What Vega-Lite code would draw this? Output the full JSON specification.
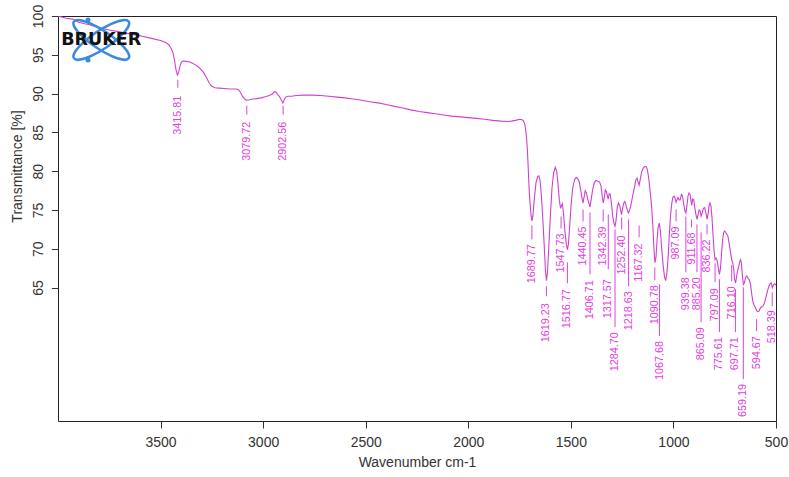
{
  "$schema": "https://vega.github.io/schema/vega-lite/v6.json",
  "width": 718,
  "height": 405,
  "autosize": {"type": "none"},
  "padding": {"left": 58, "top": 16, "right": 13, "bottom": 56},
  "background": "white",
  "config": {
    "view": {"stroke": "#222", "strokeWidth": 1},
    "font": "Liberation Sans"
  },
  "datasets": {
    "spectrum": [
      {"wn":4000,"T":100.0},{"wn":3960,"T":99.7},{"wn":3930,"T":99.6},{"wn":3900,"T":99.2},{"wn":3870,"T":99.0},{"wn":3850,"T":98.9},{"wn":3800,"T":98.5},{"wn":3750,"T":98.2},{"wn":3700,"T":97.95},{"wn":3650,"T":97.7},{"wn":3600,"T":97.45},{"wn":3550,"T":97.15},{"wn":3500,"T":96.85},{"wn":3475,"T":96.6},{"wn":3460,"T":96.3},{"wn":3450,"T":95.9},{"wn":3440,"T":95.3},{"wn":3432,"T":94.3},{"wn":3425,"T":93.1},{"wn":3418,"T":92.4},{"wn":3412,"T":92.7},{"wn":3405,"T":93.6},{"wn":3398,"T":94.05},{"wn":3390,"T":94.2},{"wn":3375,"T":94.15},{"wn":3360,"T":94.1},{"wn":3345,"T":93.9},{"wn":3330,"T":93.7},{"wn":3310,"T":93.3},{"wn":3290,"T":92.7},{"wn":3275,"T":92.0},{"wn":3262,"T":91.3},{"wn":3250,"T":90.95},{"wn":3235,"T":90.75},{"wn":3215,"T":90.7},{"wn":3190,"T":90.65},{"wn":3160,"T":90.6},{"wn":3130,"T":90.6},{"wn":3120,"T":90.5},{"wn":3110,"T":90.15},{"wn":3100,"T":89.6},{"wn":3090,"T":89.3},{"wn":3080,"T":89.15},{"wn":3065,"T":89.2},{"wn":3050,"T":89.3},{"wn":3030,"T":89.35},{"wn":3010,"T":89.45},{"wn":2990,"T":89.6},{"wn":2970,"T":89.75},{"wn":2955,"T":89.95},{"wn":2945,"T":90.25},{"wn":2938,"T":90.2},{"wn":2930,"T":89.9},{"wn":2920,"T":89.6},{"wn":2912,"T":89.2},{"wn":2904,"T":88.8},{"wn":2897,"T":89.2},{"wn":2890,"T":89.55},{"wn":2880,"T":89.65},{"wn":2860,"T":89.65},{"wn":2840,"T":89.75},{"wn":2800,"T":89.8},{"wn":2760,"T":89.8},{"wn":2720,"T":89.75},{"wn":2680,"T":89.65},{"wn":2640,"T":89.55},{"wn":2600,"T":89.45},{"wn":2560,"T":89.3},{"wn":2520,"T":89.15},{"wn":2480,"T":88.95},{"wn":2440,"T":88.8},{"wn":2400,"T":88.6},{"wn":2360,"T":88.35},{"wn":2320,"T":88.15},{"wn":2280,"T":87.9},{"wn":2240,"T":87.7},{"wn":2200,"T":87.55},{"wn":2160,"T":87.4},{"wn":2120,"T":87.25},{"wn":2080,"T":87.1},{"wn":2040,"T":87.0},{"wn":2000,"T":86.9},{"wn":1960,"T":86.8},{"wn":1920,"T":86.7},{"wn":1880,"T":86.55},{"wn":1840,"T":86.45},{"wn":1810,"T":86.4},{"wn":1790,"T":86.45},{"wn":1770,"T":86.55},{"wn":1750,"T":86.7},{"wn":1740,"T":86.65},{"wn":1732,"T":86.5},{"wn":1726,"T":86.2},{"wn":1721,"T":85.5},{"wn":1716,"T":84.3},{"wn":1712,"T":82.8},{"wn":1708,"T":80.5},{"wn":1704,"T":78.0},{"wn":1700,"T":76.2},{"wn":1695,"T":74.6},{"wn":1690,"T":73.6},{"wn":1685,"T":74.2},{"wn":1679,"T":76.2},{"wn":1670,"T":78.5},{"wn":1662,"T":79.3},{"wn":1656,"T":79.4},{"wn":1650,"T":78.8},{"wn":1644,"T":77.0},{"wn":1637,"T":74.0},{"wn":1630,"T":70.5},{"wn":1624,"T":67.3},{"wn":1619,"T":65.9},{"wn":1614,"T":67.0},{"wn":1608,"T":70.0},{"wn":1600,"T":74.2},{"wn":1592,"T":77.8},{"wn":1584,"T":79.8},{"wn":1576,"T":80.5},{"wn":1569,"T":80.0},{"wn":1562,"T":78.2},{"wn":1556,"T":76.2},{"wn":1550,"T":75.2},{"wn":1545,"T":75.6},{"wn":1541,"T":75.8},{"wn":1536,"T":74.6},{"wn":1529,"T":72.3},{"wn":1522,"T":70.5},{"wn":1517,"T":69.9},{"wn":1512,"T":70.6},{"wn":1506,"T":72.8},{"wn":1499,"T":75.6},{"wn":1491,"T":77.8},{"wn":1482,"T":78.9},{"wn":1474,"T":79.2},{"wn":1466,"T":79.0},{"wn":1459,"T":78.6},{"wn":1452,"T":77.6},{"wn":1446,"T":76.6},{"wn":1441,"T":75.9},{"wn":1436,"T":76.6},{"wn":1430,"T":77.5},{"wn":1424,"T":77.2},{"wn":1418,"T":76.4},{"wn":1412,"T":75.9},{"wn":1407,"T":75.4},{"wn":1401,"T":76.3},{"wn":1394,"T":77.6},{"wn":1386,"T":78.5},{"wn":1378,"T":78.8},{"wn":1368,"T":78.7},{"wn":1360,"T":78.6},{"wn":1353,"T":78.1},{"wn":1347,"T":76.7},{"wn":1342,"T":75.9},{"wn":1337,"T":76.6},{"wn":1332,"T":77.6},{"wn":1327,"T":77.4},{"wn":1322,"T":76.8},{"wn":1318,"T":76.4},{"wn":1313,"T":77.1},{"wn":1308,"T":77.0},{"wn":1302,"T":75.8},{"wn":1296,"T":74.2},{"wn":1290,"T":73.3},{"wn":1285,"T":72.9},{"wn":1280,"T":73.6},{"wn":1274,"T":75.3},{"wn":1268,"T":75.9},{"wn":1262,"T":75.6},{"wn":1257,"T":74.9},{"wn":1253,"T":74.4},{"wn":1248,"T":75.2},{"wn":1242,"T":75.9},{"wn":1237,"T":76.1},{"wn":1231,"T":75.6},{"wn":1225,"T":75.0},{"wn":1219,"T":74.6},{"wn":1212,"T":75.1},{"wn":1205,"T":75.9},{"wn":1198,"T":76.9},{"wn":1190,"T":77.9},{"wn":1183,"T":78.9},{"wn":1177,"T":79.1},{"wn":1172,"T":78.6},{"wn":1167,"T":78.2},{"wn":1162,"T":78.9},{"wn":1155,"T":79.9},{"wn":1147,"T":80.4},{"wn":1140,"T":80.6},{"wn":1133,"T":80.6},{"wn":1127,"T":80.2},{"wn":1120,"T":79.0},{"wn":1113,"T":77.3},{"wn":1106,"T":75.3},{"wn":1100,"T":72.8},{"wn":1095,"T":70.0},{"wn":1090,"T":68.2},{"wn":1085,"T":68.9},{"wn":1080,"T":71.0},{"wn":1075,"T":72.7},{"wn":1069,"T":73.3},{"wn":1063,"T":72.2},{"wn":1057,"T":70.0},{"wn":1050,"T":67.8},{"wn":1043,"T":66.3},{"wn":1038,"T":65.9},{"wn":1032,"T":66.8},{"wn":1026,"T":68.9},{"wn":1020,"T":71.8},{"wn":1014,"T":74.3},{"wn":1008,"T":75.9},{"wn":1002,"T":76.7},{"wn":996,"T":76.8},{"wn":991,"T":76.4},{"wn":987,"T":76.0},{"wn":983,"T":76.3},{"wn":978,"T":76.6},{"wn":972,"T":76.3},{"wn":967,"T":76.3},{"wn":961,"T":77.0},{"wn":956,"T":76.8},{"wn":950,"T":75.8},{"wn":944,"T":74.9},{"wn":939,"T":74.6},{"wn":934,"T":75.6},{"wn":929,"T":76.8},{"wn":924,"T":77.2},{"wn":919,"T":77.0},{"wn":915,"T":76.3},{"wn":911,"T":75.6},{"wn":906,"T":76.4},{"wn":901,"T":76.3},{"wn":896,"T":75.3},{"wn":891,"T":74.5},{"wn":885,"T":73.8},{"wn":880,"T":74.4},{"wn":875,"T":75.0},{"wn":870,"T":74.9},{"wn":865,"T":74.2},{"wn":860,"T":74.6},{"wn":854,"T":75.2},{"wn":848,"T":75.3},{"wn":842,"T":74.7},{"wn":836,"T":73.8},{"wn":831,"T":74.5},{"wn":826,"T":75.6},{"wn":822,"T":75.9},{"wn":817,"T":75.5},{"wn":812,"T":74.0},{"wn":807,"T":71.8},{"wn":802,"T":69.8},{"wn":797,"T":68.6},{"wn":792,"T":68.8},{"wn":787,"T":68.5},{"wn":781,"T":67.5},{"wn":776,"T":66.7},{"wn":771,"T":67.4},{"wn":766,"T":69.2},{"wn":760,"T":71.2},{"wn":755,"T":72.1},{"wn":750,"T":72.3},{"wn":745,"T":72.1},{"wn":740,"T":71.9},{"wn":734,"T":71.6},{"wn":728,"T":70.6},{"wn":722,"T":69.6},{"wn":716,"T":68.6},{"wn":711,"T":68.2},{"wn":706,"T":67.3},{"wn":702,"T":66.1},{"wn":697,"T":65.6},{"wn":692,"T":66.4},{"wn":687,"T":67.2},{"wn":681,"T":67.8},{"wn":676,"T":68.4},{"wn":672,"T":68.6},{"wn":668,"T":68.0},{"wn":664,"T":66.6},{"wn":659,"T":65.4},{"wn":654,"T":65.6},{"wn":648,"T":66.3},{"wn":642,"T":66.5},{"wn":636,"T":66.2},{"wn":630,"T":66.0},{"wn":624,"T":65.4},{"wn":618,"T":64.1},{"wn":612,"T":63.1},{"wn":606,"T":62.7},{"wn":600,"T":62.4},{"wn":594,"T":62.0},{"wn":588,"T":61.9},{"wn":582,"T":62.0},{"wn":576,"T":62.4},{"wn":570,"T":62.5},{"wn":564,"T":62.6},{"wn":558,"T":62.9},{"wn":552,"T":63.4},{"wn":546,"T":64.1},{"wn":540,"T":64.7},{"wn":534,"T":65.2},{"wn":528,"T":65.5},{"wn":523,"T":65.6},{"wn":518,"T":65.0},{"wn":513,"T":65.3},{"wn":508,"T":65.5},{"wn":503,"T":65.4},{"wn":500,"T":65.3}
    ],
    "peaks": [
      {"wn":3415.81,"label":"3415.81","lineTop":91.77,"lineBot":90.75,"textTop":89.72},
      {"wn":3079.72,"label":"3079.72","lineTop":88.43,"lineBot":87.28,"textTop":86.38},
      {"wn":2902.56,"label":"2902.56","lineTop":88.43,"lineBot":87.28,"textTop":86.38},
      {"wn":1689.77,"label":"1689.77","lineTop":73.01,"lineBot":71.21,"textTop":70.57},
      {"wn":1619.23,"label":"1619.23","lineTop":65.17,"lineBot":63.88,"textTop":62.98},
      {"wn":1547.73,"label":"1547.73","lineTop":74.16,"lineBot":72.62,"textTop":71.98},
      {"wn":1516.77,"label":"1516.77","lineTop":68.25,"lineBot":65.55,"textTop":64.78},
      {"wn":1440.45,"label":"1440.45","lineTop":75.06,"lineBot":73.52,"textTop":72.88},
      {"wn":1406.71,"label":"1406.71","lineTop":74.68,"lineBot":66.71,"textTop":65.94},
      {"wn":1342.39,"label":"1342.39","lineTop":75.06,"lineBot":73.52,"textTop":72.88},
      {"wn":1317.57,"label":"1317.57","lineTop":74.42,"lineBot":67.35,"textTop":66.07},
      {"wn":1284.70,"label":"1284.70","lineTop":72.49,"lineBot":59.90,"textTop":59.25},
      {"wn":1252.40,"label":"1252.40","lineTop":74.04,"lineBot":72.49,"textTop":71.72},
      {"wn":1218.63,"label":"1218.63","lineTop":73.78,"lineBot":65.17,"textTop":64.52},
      {"wn":1167.32,"label":"1167.32","lineTop":73.01,"lineBot":71.47,"textTop":70.69},
      {"wn":1090.78,"label":"1090.78","lineTop":67.61,"lineBot":65.94,"textTop":65.30},
      {"wn":1067.68,"label":"1067.68","lineTop":65.42,"lineBot":58.74,"textTop":58.10},
      {"wn":987.09,"label":"987.09","lineTop":75.06,"lineBot":73.52,"textTop":72.88},
      {"wn":939.38,"label":"939.38","lineTop":74.16,"lineBot":66.97,"textTop":66.32},
      {"wn":911.68,"label":"911.68","lineTop":73.78,"lineBot":72.75,"textTop":72.11},
      {"wn":885.20,"label":"885.20","lineTop":73.14,"lineBot":66.97,"textTop":66.32},
      {"wn":865.09,"label":"865.09","lineTop":72.11,"lineBot":60.54,"textTop":59.90},
      {"wn":836.22,"label":"836.22","lineTop":73.14,"lineBot":71.85,"textTop":71.21},
      {"wn":797.09,"label":"797.09","lineTop":68.12,"lineBot":65.68,"textTop":64.91},
      {"wn":775.61,"label":"775.61","lineTop":66.07,"lineBot":59.25,"textTop":58.61},
      {"wn":716.10,"label":"716.10","lineTop":67.9,"lineBot":65.81,"textTop":65.17},
      {"wn":697.71,"label":"697.71","lineTop":64.78,"lineBot":59.25,"textTop":58.61},
      {"wn":659.19,"label":"659.19","lineTop":65.04,"lineBot":53.21,"textTop":52.57},
      {"wn":594.67,"label":"594.67","lineTop":60.93,"lineBot":59.38,"textTop":58.74},
      {"wn":518.39,"label":"518.39","lineTop":64.40,"lineBot":62.60,"textTop":62.08}
    ],
    "logo": [{"wn":3789,"T":96.92,"name":"BRUKER"}],
    "logoDots": [{"wn":3854,"T":99.49},{"wn":3854,"T":94.34}]
  },
  "encoding": {
    "x": {
      "field": "wn", "type": "quantitative", "title": "Wavenumber cm-1",
      "scale": {"domain": [500, 4000], "reverse": true, "nice": false, "zero": false},
      "axis": {
        "values": [3500, 3000, 2500, 2000, 1500, 1000, 500], "format": "d",
        "domain": false, "grid": false, "tickSize": 7, "tickColor": "#333", "tickWidth": 1,
        "labelFontSize": 14, "labelColor": "#333", "labelPadding": 7, "labelFlush": false,
        "labelFont": "Liberation Sans",
        "titleFont": "Liberation Sans", "titleFontSize": 14, "titleFontWeight": "normal",
        "titleColor": "#333", "titlePadding": 6
      }
    }
  },
  "layer": [
    {
      "data": {"name": "spectrum"},
      "mark": {"type": "line", "color": "#d040d0", "strokeWidth": 1.1, "clip": true},
      "encoding": {
        "y": {
          "field": "T", "type": "quantitative", "title": "Transmittance [%]",
          "scale": {"domain": [47.8, 100], "nice": false, "zero": false},
          "axis": {
            "values": [65, 70, 75, 80, 85, 90, 95, 100],
            "domain": false, "grid": false, "tickSize": 6.6, "tickColor": "#333",
            "labelAngle": 270, "labelAlign": "center", "labelBaseline": "alphabetic",
            "labelPadding": 8.5, "labelFontSize": 14, "labelColor": "#333", "labelFlush": false,
            "labelFont": "Liberation Sans",
            "titleFont": "Liberation Sans", "titleFontSize": 14, "titleFontWeight": "normal",
            "titleColor": "#333", "titleAngle": 270, "titleAlign": "center",
            "titleBaseline": "alphabetic", "titleX": -37, "titleY": 150
          }
        }
      }
    },
    {
      "data": {"name": "peaks"},
      "mark": {"type": "rule", "color": "#dd44dd", "strokeWidth": 1},
      "encoding": {
        "y": {"field": "lineTop", "type": "quantitative", "title": "Transmittance [%]"},
        "y2": {"field": "lineBot"}
      }
    },
    {
      "data": {"name": "peaks"},
      "mark": {"type": "text", "angle": 270, "align": "right", "baseline": "middle", "fontSize": 10.8, "color": "#e040e0", "font": "Liberation Sans"},
      "encoding": {
        "y": {"field": "textTop", "type": "quantitative", "title": "Transmittance [%]"},
        "text": {"field": "label"}
      }
    },
    {
      "data": {"name": "logo"},
      "mark": {"type": "point", "filled": false, "stroke": "#3a8be0", "strokeWidth": 2.5, "opacity": 1, "size": 4330,
        "shape": "M -0.831 0.556 A 1 0.27 -33.8 1 1 0.831 -0.556 A 1 0.27 -33.8 1 1 -0.831 0.556 Z"},
      "encoding": {"y": {"field": "T", "type": "quantitative", "title": "Transmittance [%]"}}
    },
    {
      "data": {"name": "logo"},
      "mark": {"type": "point", "filled": false, "stroke": "#3a8be0", "strokeWidth": 2.5, "opacity": 1, "size": 4330,
        "shape": "M -0.831 -0.556 A 1 0.27 33.8 1 1 0.831 0.556 A 1 0.27 33.8 1 1 -0.831 -0.556 Z"},
      "encoding": {"y": {"field": "T", "type": "quantitative", "title": "Transmittance [%]"}}
    },
    {
      "data": {"name": "logoDots"},
      "mark": {"type": "point", "filled": true, "color": "#3a8be0", "opacity": 1, "size": 25, "shape": "circle"},
      "encoding": {"y": {"field": "T", "type": "quantitative", "title": "Transmittance [%]"}}
    },
    {
      "data": {"name": "logo"},
      "mark": {"type": "text", "font": "DejaVu Sans", "fontWeight": "bold", "fontSize": 17.5, "color": "#111", "align": "center", "baseline": "middle"},
      "encoding": {
        "y": {"field": "T", "type": "quantitative", "title": "Transmittance [%]"},
        "text": {"field": "name"}
      }
    }
  ]
}
